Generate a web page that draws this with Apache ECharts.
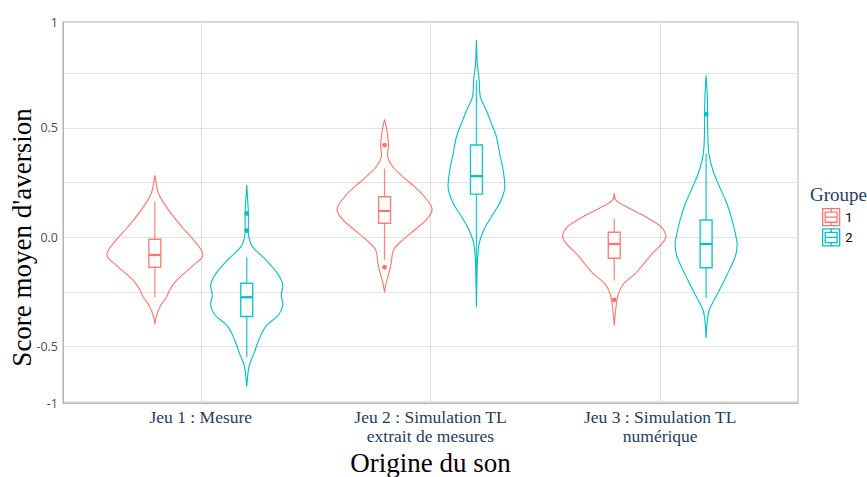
<!DOCTYPE html>
<html>
<head>
<meta charset="utf-8">
<script src="https://cdn.jsdelivr.net/npm/echarts@6/dist/echarts.min.js"></script>
<style>
  html, body { margin: 0; padding: 0; background: #fff; }
  #chart { width: 867px; height: 477px; }
</style>
</head>
<body>
<div id="chart"></div>
<script>
// categories on the x axis
const categories = [
  "Jeu 1 : Mesure",
  "Jeu 2 : Simulation TL\nextrait de mesures",
  "Jeu 3 : Simulation TL\nnumérique",
];
const groups = ["1", "2"];
const groupColors = ["#F8766D", "#00BFC4"];

// y tick labels (the edge labels sit on the panel limits)
const yTickValues = [-0.757, -0.5, 0, 0.5, 0.983];
const yTickLabels = ["-1", "-0.5", "0.0", "0.5", "1"];
const yGridValues = [-0.75, -0.5, -0.25, 0, 0.25, 0.5, 0.75];

// violin profiles: [score, half width in category units]
const violinG1J1 = [[0.283, 0], [0.2, 0.016], [0.124, 0.06], [0.048, 0.117], [-0.012, 0.168], [-0.081, 0.209], [-0.134, 0.161], [-0.195, 0.096], [-0.24, 0.065], [-0.271, 0.052], [-0.316, 0.023], [-0.362, 0.006], [-0.397, 0]];
const violinG1J2 = [[0.538, 0], [0.489, 0.01], [0.421, 0.017], [0.367, 0.014], [0.322, 0.036], [0.276, 0.08], [0.231, 0.13], [0.185, 0.174], [0.128, 0.207], [0.079, 0.181], [0.033, 0.13], [-0.012, 0.08], [-0.058, 0.039], [-0.119, 0.029], [-0.164, 0.019], [-0.21, 0.007], [-0.252, 0]];
const violinG1J3 = [[0.2, 0], [0.17, 0.007], [0.14, 0.051], [0.109, 0.109], [0.079, 0.16], [0.048, 0.203], [0.007, 0.225], [-0.027, 0.21], [-0.073, 0.167], [-0.119, 0.13], [-0.164, 0.094], [-0.21, 0.043], [-0.255, 0.019], [-0.301, 0.01], [-0.362, 0.003], [-0.404, 0]];
const violinG2J1 = [[0.238, 0], [0.17, 0.004], [0.109, 0.007], [0.048, 0.007], [0.003, 0.009], [-0.043, 0.025], [-0.103, 0.083], [-0.164, 0.133], [-0.217, 0.157], [-0.263, 0.15], [-0.309, 0.157], [-0.354, 0.139], [-0.407, 0.083], [-0.468, 0.053], [-0.529, 0.032], [-0.59, 0.01], [-0.681, 0]];
const violinG2J2 = [[0.902, 0], [0.793, 0.004], [0.717, 0.012], [0.641, 0.017], [0.58, 0.043], [0.52, 0.065], [0.459, 0.087], [0.383, 0.101], [0.307, 0.116], [0.223, 0.123], [0.155, 0.101], [0.094, 0.065], [0.033, 0.032], [-0.027, 0.012], [-0.119, 0.004], [-0.319, 0]];
const violinG2J3 = [[0.74, 0], [0.671, 0.004], [0.611, 0.006], [0.489, 0.007], [0.383, 0.012], [0.307, 0.029], [0.231, 0.058], [0.155, 0.09], [0.079, 0.113], [0.003, 0.13], [-0.035, 0.135], [-0.088, 0.127], [-0.149, 0.101], [-0.21, 0.073], [-0.271, 0.043], [-0.331, 0.014], [-0.392, 0.004], [-0.46, 0]];

// boxplot stats: [low whisker, q1, median, q3, high whisker]
const boxG1 = [[-0.274, -0.137, -0.081, -0.009, 0.162], [-0.103, 0.064, 0.12, 0.185, 0.314], [-0.198, -0.096, -0.031, 0.023, 0.087]];
const boxG2 = [[-0.547, -0.362, -0.274, -0.21, -0.091], [-0.225, 0.197, 0.279, 0.421, 0.717], [-0.278, -0.139, -0.031, 0.079, 0.383]];

// outliers per category
const outliersG1 = [[], [0.421, -0.137], [-0.286]];
const outliersG2 = [[0.109, 0.03], [], [0.563]];

const violins = [
  [violinG1J1, violinG1J2, violinG1J3],
  [violinG2J1, violinG2J2, violinG2J3],
];
const boxes = [boxG1, boxG2];
const outliers = [outliersG1, outliersG2];

const dodge = [-0.2, 0.2];
const boxHalf = 0.026;

const labelBlue = "#1F3D5C";
const serif = "'Liberation Serif', 'DejaVu Serif', serif";

function makeRender(g) {
  const color = groupColors[g];
  return function (params, api) {
    const cat = api.value(0);
    const xc = cat + 1 + dodge[g];
    const prof = violins[g][cat];
    const pts = [];
    // right side top to bottom, then left side back up
    for (let i = 0; i < prof.length; i++) {
      pts.push(api.coord([xc + prof[i][1], prof[i][0]]));
    }
    for (let i = prof.length - 1; i >= 0; i--) {
      pts.push(api.coord([xc - prof[i][1], prof[i][0]]));
    }
    const b = boxes[g][cat];
    const pLow = api.coord([xc, b[0]]);
    const pQ1 = api.coord([xc - boxHalf, b[1]]);
    const pMed = api.coord([xc, b[2]]);
    const pQ3 = api.coord([xc + boxHalf, b[3]]);
    const pHigh = api.coord([xc, b[4]]);
    const children = [
      {
        type: "polygon",
        shape: { points: pts, smooth: 0.35 },
        style: { fill: "none", stroke: color, lineWidth: 1.1 },
      },
      {
        type: "line",
        shape: { x1: pLow[0], y1: pLow[1], x2: pHigh[0], y2: pHigh[1] },
        style: { stroke: color, lineWidth: 1.3, opacity: 0.85 },
      },
      {
        type: "rect",
        shape: {
          x: pQ1[0],
          y: pQ3[1],
          width: pQ3[0] - pQ1[0],
          height: pQ1[1] - pQ3[1],
        },
        style: { fill: "#fff", stroke: color, lineWidth: 1.4, opacity: 0.9 },
      },
      {
        type: "line",
        shape: { x1: pQ1[0], y1: pMed[1], x2: pQ3[0], y2: pMed[1] },
        style: { stroke: color, lineWidth: 2.2 },
      },
    ];
    outliers[g][cat].forEach(function (v) {
      const p = api.coord([xc, v]);
      children.push({
        type: "circle",
        shape: { cx: p[0], cy: p[1], r: 2.4 },
        style: { fill: color, stroke: null },
      });
    });
    return { type: "group", children: children };
  };
}

const chart = echarts.init(document.getElementById("chart"), null, {
  renderer: "svg",
});

const option = {
  backgroundColor: "#fff",
  animation: false,
  title: {
    text: "Groupe",
    left: 805,
    top: 180,
    textStyle: {
      fontFamily: serif,
      fontSize: 19,
      fontWeight: "normal",
      color: labelBlue,
    },
  },
  legend: {
    orient: "vertical",
    left: 817,
    top: 203,
    itemWidth: 18,
    itemHeight: 17,
    itemGap: 2,
    textStyle: { fontFamily: "Roboto, sans-serif", fontSize: 13, color: "#000" },
    data: groups.map(function (name, i) {
      return {
        name: name,
        icon: "path://M0,0L20,0L20,20L0,20Z M3,4L17,4L17,16L3,16Z M3,10L17,10 M10,0L10,4 M10,16L10,20",
        itemStyle: { color: "#fff", borderColor: groupColors[i], borderWidth: 1.3 },
      };
    }),
  },
  grid: {
    left: 63,
    top: 22,
    right: 69,
    bottom: 74,
    outerBoundsMode: "none",
    containLabel: false,
    show: true,
    borderColor: "#b3b3b3",
    borderWidth: 1,
  },
  xAxis: {
    type: "value",
    min: 0.4,
    max: 3.6,
    name: "Origine du son",
    nameLocation: "middle",
    nameGap: 44,
    nameTextStyle: { fontFamily: serif, fontSize: 27, color: "#000" },
    axisLine: { show: true, onZero: false, lineStyle: { color: "#b3b3b3" } },
    axisTick: { show: false, customValues: [1, 2, 3] },
    axisLabel: {
      customValues: [1, 2, 3],
      formatter: function (v) {
        return categories[Math.round(v) - 1];
      },
      fontFamily: serif,
      fontSize: 17.5,
      lineHeight: 19,
      color: labelBlue,
      margin: 4,
    },
    splitLine: { show: true, lineStyle: { color: "#dedede", width: 1 } },
  },
  yAxis: {
    type: "value",
    min: -0.757,
    max: 0.983,
    name: "Score moyen d'aversion",
    nameLocation: "middle",
    nameGap: 28,
    nameMoveOverlap: false,
    nameTextStyle: {
      fontFamily: serif,
      fontSize: 27,
      color: "#000",
      padding: [0, 50, 0, 0],
    },
    axisLine: { show: true, onZero: false, lineStyle: { color: "#b3b3b3" } },
    axisTick: { show: false, customValues: yGridValues },
    axisLabel: {
      customValues: yTickValues,
      formatter: function (v) {
        const i = yTickValues.indexOf(v);
        return i >= 0 ? yTickLabels[i] : "";
      },
      fontFamily: "'Open Sans', sans-serif",
      fontSize: 12.5,
      color: "#4d4d4d",
      margin: 5,
    },
    splitLine: { show: true, lineStyle: { color: "#e3e3e3", width: 1 } },
  },
  series: groups.map(function (name, g) {
    return {
      name: name,
      type: "custom",
      clip: false,
      itemStyle: { color: groupColors[g] },
      data: [[0], [1], [2]],
      renderItem: makeRender(g),
    };
  }),
};

chart.setOption(option);
</script>
</body>
</html>
